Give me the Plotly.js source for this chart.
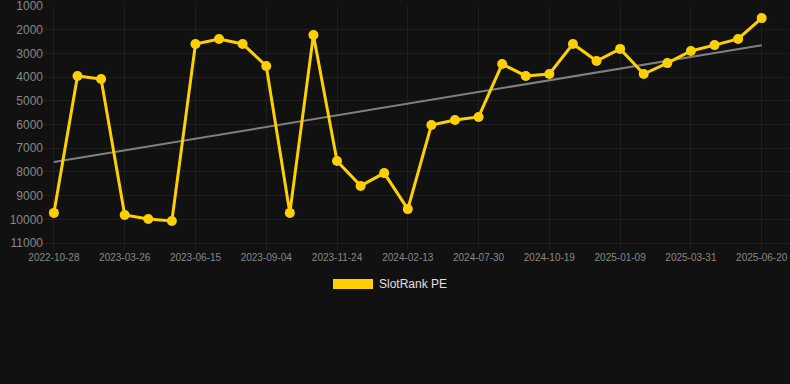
<!DOCTYPE html>
<html>
<head>
<meta charset="utf-8">
<script src="https://cdn.plot.ly/plotly-3.0.1.min.js"></script>
<style>
html,body{margin:0;padding:0;background:#111111;}
#chart{width:790px;height:384px;}
</style>
</head>
<body>
<div id="chart"></div>
<script>
// Dates (categories) — every third one is labelled on the axis
const dates = [
  "2022-10-28","2022-12-17","2023-02-05","2023-03-26","2023-04-22","2023-05-19",
  "2023-06-15","2023-07-12","2023-08-08","2023-09-04","2023-10-01","2023-10-28",
  "2023-11-24","2023-12-21","2024-01-17","2024-02-13","2024-03-31","2024-06-12",
  "2024-07-30","2024-08-26","2024-09-22","2024-10-19","2024-11-15","2024-12-13",
  "2025-01-09","2025-02-05","2025-03-04","2025-03-31","2025-04-27","2025-05-24",
  "2025-06-20"
];
const seriesName = "SlotRank PE";
const rankValues = [
  9730, 3950, 4080, 9820, 9990, 10070,
  2600, 2390, 2600, 3530, 9730, 2220,
  7540, 8590, 8050, 9570, 6020, 5810,
  5680, 3450, 3950, 3870, 2600, 3320,
  2810, 3870, 3410, 2900, 2650, 2390,
  1510
];
const yTickVals = [1000,2000,3000,4000,5000,6000,7000,8000,9000,10000,11000];

// linear regression trend over the series
const n = rankValues.length;
const idx = rankValues.map((_, i) => i);
const mx = idx.reduce((a,b)=>a+b,0)/n;
const my = rankValues.reduce((a,b)=>a+b,0)/n;
let sxy = 0, sxx = 0;
for (let i = 0; i < n; i++) { sxy += (i-mx)*(rankValues[i]-my); sxx += (i-mx)*(i-mx); }
const slope = sxy/sxx, intercept = my - slope*mx;
const trendValues = idx.map(i => intercept + slope*i);

const xTickVals = dates.filter((d, i) => i % 3 === 0);

const yellow = "#FFD000";
const traces = [
  {
    x: dates, y: trendValues, type: "scatter", mode: "lines",
    line: {color: "#808080", width: 2}, hoverinfo: "skip", showlegend: false
  },
  {
    x: dates, y: rankValues, type: "scatter", mode: "lines+markers", name: seriesName,
    line: {color: yellow, width: 3}, marker: {color: yellow, size: 10},
    showlegend: false, cliponaxis: false
  }
];

const plotTop = 6, plotBottom = 250, plotLeft = 44;
const plotH = plotBottom - plotTop, plotW = 790 - plotLeft;

const layout = {
  width: 790, height: 384,
  paper_bgcolor: "#111111", plot_bgcolor: "#111111",
  margin: {l: plotLeft, r: 0, t: plotTop, b: 384 - plotBottom},
  font: {family: "Liberation Sans, Arial, sans-serif", color: "#888888"},
  showlegend: false,
  xaxis: {
    type: "category", range: [-0.42, 31.2],
    tickmode: "array", tickvals: xTickVals, ticktext: xTickVals,
    tickangle: 0, tickfont: {size: 10, color: "#888888"},
    ticklabeloverflow: "allow",
    showgrid: true, gridcolor: "#1f1f1f", gridwidth: 1,
    zeroline: false, showline: false, ticks: ""
  },
  yaxis: {
    range: [11295, 1000],
    tickmode: "array", tickvals: yTickVals, ticktext: yTickVals.map(String),
    tickfont: {size: 12, color: "#888888"},
    ticklabeloverflow: "allow",
    showgrid: true, gridcolor: "#1f1f1f", gridwidth: 1,
    zeroline: false, showline: false, ticks: ""
  },
  shapes: [
    {type: "rect", xref: "paper", yref: "paper",
     x0: (333-plotLeft)/plotW, x1: (373-plotLeft)/plotW,
     y0: (plotBottom-289)/plotH, y1: (plotBottom-279)/plotH,
     fillcolor: yellow, line: {width: 0}}
  ],
  annotations: [
    {xref: "paper", yref: "paper", x: (377-plotLeft)/plotW, y: (plotBottom-284)/plotH,
     xanchor: "left", yanchor: "middle", showarrow: false,
     text: seriesName, font: {size: 12, color: "#e0e0e0"}}
  ]
};

Plotly.newPlot("chart", traces, layout, {displayModeBar: false, staticPlot: true});
</script>
</body>
</html>
